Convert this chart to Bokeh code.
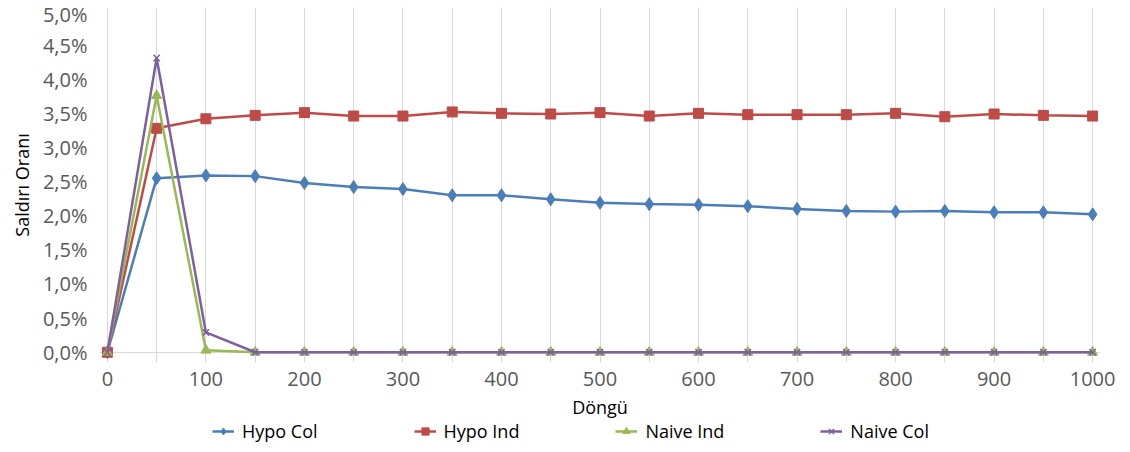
from bokeh.plotting import figure
from bokeh.layouts import column
from bokeh.models import Range1d, FixedTicker, CustomJSTickFormatter, Legend, LegendItem
from bokeh.embed import file_html
from bokeh.resources import INLINE

iterations = [0, 50, 100, 150, 200, 250, 300, 350, 400, 450, 500, 550, 600, 650, 700, 750, 800, 850, 900, 950, 1000]
hypo_col = [0.00, 2.55, 2.59, 2.58, 2.48, 2.42, 2.39, 2.30, 2.30, 2.24, 2.19, 2.17, 2.16, 2.14, 2.10, 2.07, 2.06, 2.07, 2.05, 2.05, 2.02]
hypo_ind = [0.00, 3.28, 3.42, 3.47, 3.51, 3.46, 3.46, 3.52, 3.50, 3.49, 3.51, 3.46, 3.50, 3.48, 3.48, 3.48, 3.50, 3.45, 3.49, 3.47, 3.46]
naive_ind = [0.00, 3.76, 0.03, 0.00, 0.00, 0.00, 0.00, 0.00, 0.00, 0.00, 0.00, 0.00, 0.00, 0.00, 0.00, 0.00, 0.00, 0.00, 0.00, 0.00, 0.00]
naive_col = [0.00, 4.31, 0.29, 0.00, 0.00, 0.00, 0.00, 0.00, 0.00, 0.00, 0.00, 0.00, 0.00, 0.00, 0.00, 0.00, 0.00, 0.00, 0.00, 0.00, 0.00]
x_ticks = list(range(0, 1001, 100))
x_grid = list(range(0, 1001, 50))
y_ticks = [0.0, 0.5, 1.0, 1.5, 2.0, 2.5, 3.0, 3.5, 4.0, 4.5, 5.0]

FONT = "Open Sans"
TICK_COLOR = "#595959"
GRID = "#D9D9D9"

p = figure(width=1130, height=422, output_backend="svg", toolbar_location=None,
           x_range=Range1d(-8, 1008), y_range=Range1d(-0.15, 5.05),
           min_border_left=99, min_border_right=30, min_border_top=7, min_border_bottom=60)
p.outline_line_color = None
p.background_fill_color = "white"

# axes
p.xaxis.ticker = FixedTicker(ticks=x_ticks)
p.yaxis.ticker = FixedTicker(ticks=y_ticks)
p.yaxis.formatter = CustomJSTickFormatter(code="return tick.toFixed(1).replace('.', ',') + '%';")
for ax in (p.xaxis[0], p.yaxis[0]):
    ax.axis_line_color = None
    ax.major_tick_line_color = None
    ax.minor_tick_line_color = None
    ax.major_tick_out = 0
    ax.major_tick_in = 0
    ax.minor_tick_out = 0
    ax.major_label_text_font = FONT
    ax.major_label_text_font_size = "20px"
    ax.major_label_text_color = TICK_COLOR
    ax.major_label_text_line_height = 1.0
    ax.axis_label_text_font = FONT
    ax.axis_label_text_font_size = "18px"
    ax.axis_label_text_font_style = "normal"
    ax.axis_label_text_color = "black"
    ax.axis_label_text_line_height = 1.0
p.xaxis.axis_label = "Döngü"
p.yaxis.axis_label = "Saldırı Oranı"
p.xaxis.major_label_standoff = 9
p.xaxis.axis_label_standoff = 6
p.yaxis.major_label_standoff = 12
p.yaxis.axis_label_standoff = 6

# grid
p.xgrid.ticker = FixedTicker(ticks=x_grid)
p.xgrid.grid_line_color = GRID
p.xgrid.grid_line_width = 1
p.ygrid.ticker = FixedTicker(ticks=[0])
p.ygrid.grid_line_color = GRID
p.ygrid.grid_line_width = 1

series = [
    ("Hypo Col", hypo_col, "#4A7EBB", "diamond", 13),
    ("Hypo Ind", hypo_ind, "#BE4B48", "square", 10),
    ("Naive Ind", naive_ind, "#98B954", "triangle", 10),
    ("Naive Col", naive_col, "#7D60A0", "x", 9),
]

# legend strip below the chart (its own small figure; its glyph copies lie outside its ranges)
lf = figure(width=1130, height=30, output_backend="svg", toolbar_location=None,
            x_range=Range1d(5000, 6000), y_range=Range1d(50, 60),
            x_axis_location=None, y_axis_location=None,
            min_border_left=0, min_border_right=0, min_border_top=0, min_border_bottom=0)
lf.outline_line_color = None
lf.xgrid.visible = False
lf.ygrid.visible = False

items = []
for name, vals, color, marker, size in series:
    p.line(iterations, vals, line_color=color, line_width=2.5)
    p.scatter(iterations, vals, marker=marker, size=size, fill_color=color,
              line_color=color, line_width=1.5 if marker == "x" else 1)
    l1 = lf.line(iterations, vals, line_color=color, line_width=2.5)
    l2 = lf.scatter(iterations, vals, marker=marker, size=size - 2, fill_color=color,
                    line_color=color, line_width=1.5 if marker == "x" else 1)
    items.append(LegendItem(label=name, renderers=[l1, l2]))

legend = Legend(items=items, orientation="horizontal", location=(113, 9),
                border_line_color=None, background_fill_alpha=0, padding=0, margin=0,
                spacing=96, label_standoff=8, glyph_width=22, glyph_height=18,
                label_height=18, label_text_line_height=1.0,
                label_text_font=FONT, label_text_font_size="18px", label_text_color="black")
lf.add_layout(legend, "center")

layout = column(p, lf, spacing=0)
open("out.html", "w").write(file_html(layout, INLINE))
